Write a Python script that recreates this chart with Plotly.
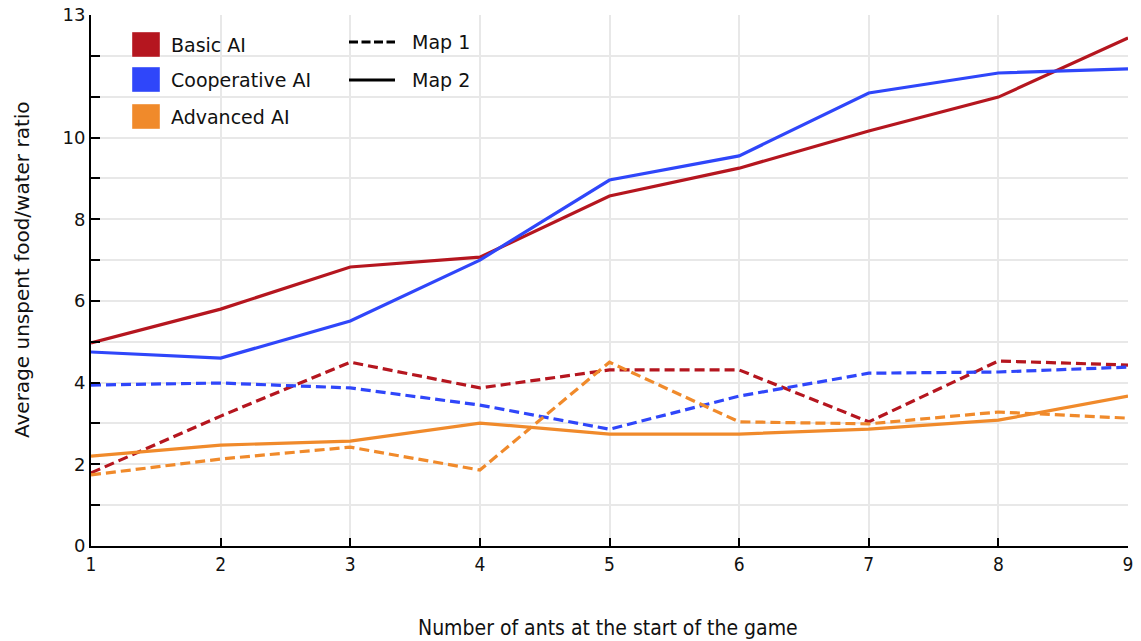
import plotly.graph_objects as go

ants = [1, 2, 3, 4, 5, 6, 7, 8, 9]

basic_map1 = [1.79, 3.18, 4.50, 3.87, 4.31, 4.31, 3.04, 4.53, 4.43]
basic_map2 = [4.97, 5.80, 6.83, 7.07, 8.57, 9.25, 10.16, 10.99, 12.44]
coop_map1 = [3.94, 3.99, 3.87, 3.45, 2.86, 3.67, 4.23, 4.26, 4.38]
coop_map2 = [4.75, 4.60, 5.51, 7.00, 8.96, 9.55, 11.09, 11.58, 11.68]
adv_map1 = [1.74, 2.13, 2.42, 1.86, 4.50, 3.04, 2.99, 3.28, 3.13]
adv_map2 = [2.20, 2.47, 2.57, 3.01, 2.74, 2.74, 2.86, 3.08, 3.67]

ai_names = ["Basic AI", "Cooperative AI", "Advanced AI"]
ai_colors = ["#B5161F", "#2F46FA", "#F08A2B"]
map_names = ["Map 1", "Map 2"]
map_dash = ["10px,5px", "solid"]

y_tick_vals = list(range(0, 14))
y_tick_text = ["0", "", "2", "", "4", "", "6", "", "8", "", "10", "", "", "13"]

series = [
    (basic_map1, 0, 0), (basic_map2, 0, 1),
    (coop_map1, 1, 0), (coop_map2, 1, 1),
    (adv_map1, 2, 0), (adv_map2, 2, 1),
]

fig = go.Figure()
for vals, ai, mp in series:
    fig.add_trace(go.Scatter(
        x=ants, y=vals, mode="lines",
        line=dict(color=ai_colors[ai], width=3.2, dash=map_dash[mp]),
        name=f"{ai_names[ai]} {map_names[mp]}", showlegend=False,
    ))

W, H = 1141, 641
PL, PR, PT, PB = 91, 1128, 15, 546  # plot area in page pixels
L = PL
R = W - PR
T = PT
B = H - PB


def px(x):
    return (x - PL) / (PR - PL)


def py(y):
    return (PB - y) / (PB - PT)


shapes = []
annotations = []
sq_y = [(32, 57), (67, 92), (104, 129)]
for i, name in enumerate(ai_names):
    y0, y1 = sq_y[i]
    shapes.append(dict(type="rect", xref="paper", yref="paper",
                       x0=px(132), x1=px(160), y0=py(y1), y1=py(y0),
                       fillcolor=ai_colors[i], line=dict(width=1, color="rgba(255,255,255,0.4)")))
    annotations.append(dict(xref="paper", yref="paper", x=px(169), y=py((y0 + y1) / 2),
                            text=name, showarrow=False, xanchor="left", yanchor="middle",
                            font=dict(family="DejaVu Sans", size=19, color="#111")))
line_y = [42, 80]
for i, name in enumerate(map_names):
    shapes.append(dict(type="line", xref="paper", yref="paper",
                       x0=px(349), x1=px(395), y0=py(line_y[i]), y1=py(line_y[i]),
                       line=dict(color="black", width=3, dash="9px,3.5px" if i == 0 else "solid")))
    annotations.append(dict(xref="paper", yref="paper", x=px(410), y=py(line_y[i]),
                            text=name, showarrow=False, xanchor="left", yanchor="middle",
                            font=dict(family="DejaVu Sans", size=19, color="#111")))

# axis titles
annotations.append(dict(xref="paper", yref="paper", x=px(608), y=py(628),
                        text="Number of ants at the start of the game", showarrow=False,
                        xanchor="center", yanchor="middle",
                        font=dict(family="DejaVu Sans Condensed, DejaVu Sans", size=21, color="#111")))
annotations.append(dict(xref="paper", yref="paper", x=px(22), y=py(270),
                        text="Average unspent food/water ratio", showarrow=False, textangle=-90,
                        xanchor="center", yanchor="middle",
                        font=dict(family="DejaVu Sans", size=20, color="#111")))

fig.update_layout(
    width=W, height=H,
    margin=dict(l=L, r=R, t=T, b=B, autoexpand=False),
    plot_bgcolor="white", paper_bgcolor="white",
    shapes=shapes, annotations=annotations,
    xaxis=dict(
        range=[1, 9], tickvals=ants, ticktext=[str(a) for a in ants],
        showgrid=True, gridcolor="#E8E8E8", gridwidth=2,
        showline=True, linecolor="black", linewidth=2,
        ticks="inside", ticklen=8, tickcolor="black", tickwidth=2,
        tickfont=dict(family="DejaVu Sans Condensed, DejaVu Sans", size=19, color="#111"),
        ticklabeloverflow="allow",
        automargin=False, zeroline=False,
    ),
    yaxis=dict(
        range=[0, 13], tickvals=y_tick_vals, ticktext=y_tick_text,
        showgrid=True, gridcolor="#E8E8E8", gridwidth=2,
        showline=True, linecolor="black", linewidth=2,
        ticks="inside", ticklen=9, tickcolor="black", tickwidth=2,
        tickfont=dict(family="DejaVu Sans", size=18, color="#111"),
        ticklabeloverflow="allow",
        automargin=False, zeroline=False,
    ),
)

fig.write_html("out.html", config={"displayModeBar": False},
               post_script="document.body.style.margin='0';")
